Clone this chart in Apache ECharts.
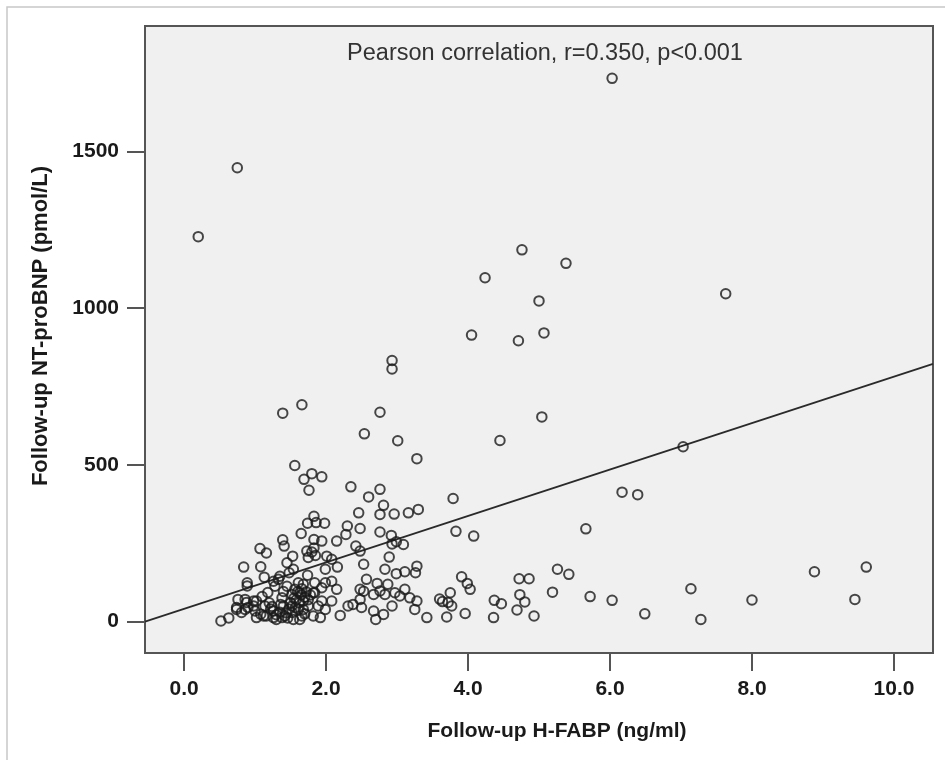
<!DOCTYPE html>
<html>
<head>
<meta charset="utf-8">
<script src="https://cdn.jsdelivr.net/npm/echarts@6/dist/echarts.min.js"></script>
<style>
html,body{margin:0;padding:0;background:#fff;}
#chart{width:945px;height:760px;}
</style>
</head>
<body>
<div id="chart"></div>
<script>
// Follow-up H-FABP (ng/ml)
const hfabp = [
0.20,0.75,6.03,7.63,4.76,5.38,4.24,5.00,4.05,5.07,4.71,2.93,2.93,5.04,2.76,4.45,3.01,1.39,1.66,2.54,3.28,7.03,6.17,6.39,
5.66,5.26,5.42,4.72,4.86,5.19,4.73,4.80,4.37,4.47,4.69,4.36,4.93,5.72,6.03,6.49,7.14,7.28,8.00,8.88,9.61,9.45,
1.56,1.80,1.69,1.94,1.76,1.83,1.74,1.98,1.86,1.65,1.39,1.41,1.07,1.16,1.83,1.94,1.53,1.45,0.84,1.08,1.13,1.48,0.89,0.89,1.26,1.33,1.99,1.74,1.73,1.80,1.85,1.75,1.83,
2.35,2.60,2.76,2.81,2.76,2.96,3.16,3.30,3.79,3.83,4.08,2.46,2.30,2.28,2.48,2.76,2.92,2.99,3.09,2.93,2.42,2.48,2.89,2.53,2.83,2.99,3.11,3.26,3.28,2.16,2.15,2.08,2.08,2.15,2.08,2.20,2.57,2.48,2.53,2.72,2.87,2.67,2.76,2.83,2.97,3.04,3.11,3.18,3.28,2.31,2.38,2.50,2.48,2.67,2.81,2.93,3.25,2.70,3.42,3.70,3.60,3.64,3.75,3.72,3.77,3.96,3.91,3.99,4.03,
0.52,0.63,0.74,0.86,0.98,0.86,0.98,1.00,1.02,1.14,1.16,1.26,1.30,1.40,1.42,1.52,1.61,1.63,1.68,1.75,1.82,1.84,1.94,1.99,1.94,1.56,1.61,0.90,0.81,1.28,1.45,1.18,1.52,1.38,1.35,1.54,1.68,1.84,1.99,2.01,0.74,0.88,1.02,1.12,1.26,1.38,1.54,1.63,1.82,1.89,0.76,1.92,1.68,
1.60,1.65,1.70,1.58,1.72,1.66,1.75,1.62,1.55,1.78,1.50,1.48,1.35,1.20,1.10,
1.30,1.22,1.44,1.57,1.36,1.70,1.46,1.08,1.24,1.66,1.52,1.40
];
// Follow-up NT-proBNP (pmol/L)
const ntprobnp = [
1228,1448,1733,1046,1186,1143,1097,1023,914,921,896,833,806,653,668,578,577,665,692,599,520,558,413,405,
296,167,151,137,137,94,86,63,68,57,37,13,18,80,68,25,105,7,69,159,174,71,
498,472,454,462,419,336,314,314,316,281,261,241,233,219,262,257,209,188,174,175,142,156,124,114,129,135,167,148,225,222,211,205,235,
430,398,422,371,342,343,347,358,393,288,273,347,305,278,297,286,275,255,246,248,241,225,206,183,167,153,159,156,177,174,257,199,129,103,66,20,135,103,97,122,119,87,98,87,92,82,103,76,66,50,55,45,71,34,23,50,39,7,13,15,72,64,92,61,50,26,143,122,103,
2,12,39,39,50,71,66,34,13,50,18,34,7,50,18,29,39,7,66,50,18,92,66,39,108,103,124,45,29,113,113,93,87,76,145,167,119,124,124,209,45,61,66,18,13,13,7,92,92,50,71,13,39,
95,85,78,70,95,105,70,60,75,85,60,40,30,60,80,
22,40,28,45,55,25,12,24,48,18,50,96
];
// Regression line end points (x, y)
const fitX = [-0.55, 10.55];
const fitY = [0, 822];
const xTicks = [0, 2, 4, 6, 8, 10];
const yTicks = [0, 500, 1000, 1500];
const annotation = 'Pearson correlation, r=0.350, p<0.001';
const xName = 'Follow-up H-FABP (ng/ml)';
const yName = 'Follow-up NT-proBNP (pmol/L)';

const points = hfabp.map((x, i) => [x, ntprobnp[i]]);
const fitData = fitX.map((x, i) => [x, fitY[i]]);

const chart = echarts.init(document.getElementById('chart'));
const font = '"Liberation Sans", Arial, sans-serif';
chart.setOption({
  animation: false,
  backgroundColor: '#ffffff',
  grid: {
    left: 145, top: 26, right: 12, bottom: 107,
    show: true, backgroundColor: '#f0f0f0', borderColor: '#555', borderWidth: 2
  },
  xAxis: {
    type: 'value', min: -0.55, max: 10.55,
    axisLine: { show: true, onZero: false, lineStyle: { color: '#555', width: 2 } },
    axisTick: { show: true, inside: false, customValues: xTicks, length: 18, lineStyle: { color: '#555', width: 2 } },
    axisLabel: { customValues: xTicks, formatter: v => Number(v).toFixed(1), margin: 26,
      fontFamily: font, fontWeight: 'bold', fontSize: 21, color: '#1a1a1a' },
    splitLine: { show: false }
  },
  yAxis: {
    type: 'value', min: -100, max: 1900,
    axisLine: { show: true, onZero: false, lineStyle: { color: '#555', width: 2 } },
    axisTick: { show: true, inside: false, customValues: yTicks, length: 18, lineStyle: { color: '#555', width: 2 } },
    axisLabel: { customValues: yTicks, formatter: v => String(v), margin: 26,
      fontFamily: font, fontWeight: 'bold', fontSize: 21, color: '#1a1a1a' },
    splitLine: { show: false }
  },
  graphic: [
    { type: 'rect', shape: { x: 7, y: 7, width: 960, height: 780 }, style: { fill: 'none', stroke: '#c8c8c8', lineWidth: 1.5 }, silent: true, z: -1 },
    { type: 'text', x: 545, y: 54, style: { text: annotation, font: '23.5px ' + font, fill: '#333', textAlign: 'center', textVerticalAlign: 'middle' } },
    { type: 'text', x: 557, y: 731, style: { text: xName, font: 'bold 21px ' + font, fill: '#1a1a1a', textAlign: 'center', textVerticalAlign: 'middle' } },
    { type: 'text', x: 41, y: 326, rotation: Math.PI / 2, style: { text: yName, font: 'bold 22px ' + font, fill: '#1a1a1a', textAlign: 'center', textVerticalAlign: 'middle' } }
  ],
  series: [
    {
      type: 'scatter', data: points, symbol: 'circle', symbolSize: 9.5,
      itemStyle: { color: 'rgba(0,0,0,0)', borderColor: '#1a1a1a', borderWidth: 2 },
      z: 3
    },
    {
      type: 'line', data: fitData, symbol: 'none', silent: true,
      lineStyle: { color: '#2a2a2a', width: 1.8 }, z: 2
    }
  ]
});
</script>
</body>
</html>
